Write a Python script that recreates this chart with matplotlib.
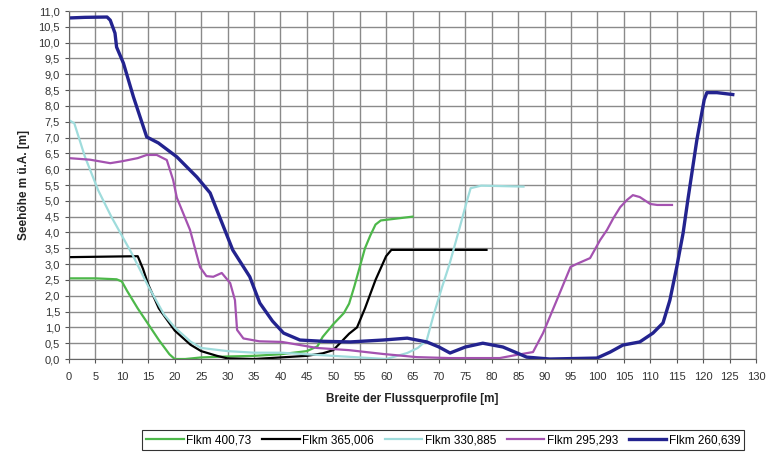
import matplotlib.pyplot as plt

plt.rcParams['font.family'] = ['Liberation Sans', 'DejaVu Sans']

# Querprofile: Breite [m] und Seehoehe [m ue.A.]
green_x = [0, 5, 9, 10, 11, 13, 15, 17, 19, 20, 22, 25, 30, 35, 40, 45, 47, 48, 50, 52, 53, 54, 55, 56, 57, 58, 59, 61, 65]
green_y = [2.55, 2.55, 2.52, 2.45, 2.15, 1.6, 1.1, 0.6, 0.15, 0.0, 0.0, 0.05, 0.08, 0.1, 0.15, 0.25, 0.4, 0.7, 1.1, 1.45, 1.75, 2.3, 2.9, 3.5, 3.9, 4.25, 4.38, 4.42, 4.5]

black_x = [0, 13, 14, 15, 17, 20, 23, 25, 28, 30, 35, 40, 45, 48, 50, 53, 54.5, 56, 58, 60, 61, 79]
black_y = [3.22, 3.25, 2.85, 2.35, 1.6, 0.9, 0.45, 0.25, 0.1, 0.02, 0.0, 0.05, 0.1, 0.18, 0.28, 0.8, 1.0, 1.6, 2.5, 3.25, 3.45, 3.45]

cyan_x = [0, 1, 3, 5.5, 8, 10, 12, 15, 18, 20, 23, 25, 30, 35, 40, 45, 50, 55, 60, 64, 66, 67.7, 69, 70.6, 72, 74, 75.3, 76, 78, 86]
cyan_y = [7.55, 7.45, 6.4, 5.34, 4.5, 3.9, 3.3, 2.3, 1.4, 1.0, 0.55, 0.35, 0.25, 0.2, 0.2, 0.15, 0.1, 0.05, 0.0, 0.19, 0.35, 0.6, 1.4, 2.28, 3.0, 4.2, 5.0, 5.4, 5.48, 5.45]

purple_x = [0, 4, 7.8, 10, 13, 14.7, 16, 16.6, 18.5, 19.7, 20.4, 22.9, 24.8, 26, 27.3, 28.9, 30.5, 31.4, 31.8, 33, 36, 40.3, 46.9, 53, 59.4, 65.8, 72, 81.5, 84.7, 87.8, 89.7, 92.3, 94.9, 96, 98.6, 100.5, 101.8, 103, 104.3, 105.6, 106.7, 108, 110, 111.3, 114.1]
purple_y = [6.35, 6.3, 6.19, 6.25, 6.35, 6.45, 6.45, 6.45, 6.29, 5.66, 5.1, 4.08, 2.9, 2.62, 2.6, 2.72, 2.4, 1.86, 0.92, 0.65, 0.56, 0.54, 0.35, 0.28, 0.16, 0.06, 0.03, 0.03, 0.13, 0.22, 0.82, 1.86, 2.91, 3.0, 3.19, 3.76, 4.08, 4.45, 4.8, 5.03, 5.18, 5.12, 4.9, 4.87, 4.87]

blue_x = [0, 3, 7.2, 7.8, 8.7, 9, 10.3, 12.2, 14.7, 16.9, 20.4, 24.2, 26.7, 28, 31, 34.2, 36.1, 38.5, 40.6, 43.7, 48, 53.2, 59.4, 64, 67.7, 70, 72.1, 75, 78.3, 82.1, 84.8, 86.6, 91, 99.9, 102.4, 104.8, 108, 110.5, 112.4, 113.7, 115, 116.2, 117.1, 118.8, 120.2, 120.7, 122.6, 125.6]
blue_y = [10.78, 10.8, 10.81, 10.71, 10.3, 9.86, 9.35, 8.28, 7.02, 6.83, 6.39, 5.75, 5.25, 4.7, 3.44, 2.6, 1.77, 1.2, 0.82, 0.6, 0.56, 0.54, 0.6, 0.66, 0.54, 0.38, 0.19, 0.38, 0.5, 0.38, 0.19, 0.06, 0.0, 0.03, 0.22, 0.44, 0.54, 0.82, 1.14, 1.86, 2.91, 3.98, 5.03, 6.92, 8.2, 8.42, 8.42, 8.36]

series = [
    ('Flkm 400,73', green_x, green_y, '#4db84a', 1.6),
    ('Flkm 365,006', black_x, black_y, '#000000', 1.6),
    ('Flkm 330,885', cyan_x, cyan_y, '#9fdcdc', 1.6),
    ('Flkm 295,293', purple_x, purple_y, '#a452b0', 1.6),
    ('Flkm 260,639', blue_x, blue_y, '#23238f', 2.4),
]

x_ticks = list(range(0, 131, 5))
y_ticks = [i * 0.5 for i in range(23)]
y_tick_labels = [f'{v:.1f}'.replace('.', ',') for v in y_ticks]

fig = plt.figure(figsize=(7.79, 4.57), dpi=100)
ax = fig.add_axes([0.0886, 0.2144, 0.8819, 0.7615])

for name, xs, ys, color, lw in series:
    ax.plot(xs, ys, color=color, linewidth=lw, label=name, solid_joinstyle='round')

ax.set_xlim(0, 130)
ax.set_ylim(0, 11)
ax.set_xticks(x_ticks)
ax.set_xticklabels([str(v) for v in x_ticks], fontsize=8, color='#333333')
ax.set_yticks(y_ticks)
ax.set_yticklabels(y_tick_labels, fontsize=8, color='#333333')
ax.tick_params(axis='both', length=3, color='#555555', width=0.8)
ax.tick_params(axis='x', pad=6)
ax.grid(True, color='#8a8a8a', linewidth=1.0)
ax.set_axisbelow(True)
for side in ['left', 'bottom']:
    ax.spines[side].set_color('#666666')
for side in ['top', 'right']:
    ax.spines[side].set_color('#8a8a8a')

ax.set_xlabel('Breite der Flussquerprofile [m]', fontsize=8.5, fontweight='bold', color='#222222', labelpad=8)
ax.set_ylabel('Seehöhe m ü.A. [m]', fontsize=8.5, fontweight='bold', color='#222222', labelpad=6)

leg = fig.legend(loc='center', bbox_to_anchor=(0.569, 0.037), ncol=5, fontsize=8.5,
                 frameon=True, fancybox=False, edgecolor='#000000', handlelength=3.2,
                 handletextpad=0.2, columnspacing=0.9, borderpad=0.35)
leg.get_frame().set_linewidth(0.8)

fig.savefig('out.png', dpi=100)
